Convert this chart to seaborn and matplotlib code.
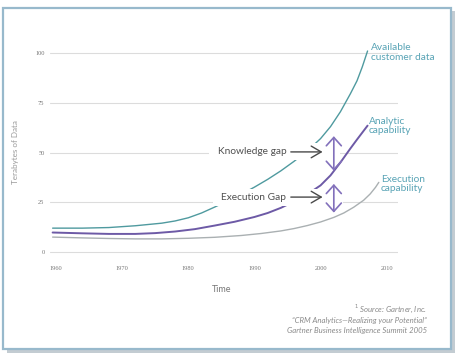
import matplotlib
matplotlib.use("Agg")
import matplotlib.pyplot as plt
import matplotlib.patches as mpatches
import pandas as pd
import seaborn as sns

sns.set_theme(style="white")
plt.rcParams["font.family"] = ["Lato", "DejaVu Sans"]

# values
available_years = [1959.5, 1964, 1968, 1972, 1976, 1978, 1980, 1982, 1984, 1986,
                   1988, 1990, 1992, 1994, 1996, 1998, 2000, 2001.5, 2003, 2004.5,
                   2005.5, 2006.3, 2007.1]
available_tb = [12.0, 12.0, 12.3, 13.2, 14.5, 15.6, 17.2, 19.6, 22.6, 25.8,
                29.0, 32.6, 36.5, 40.8, 45.6, 50.8, 57.0, 63.0, 70.5, 79.5,
                86.0, 93.0, 101.0]

analytic_years = [1959.5, 1964, 1968, 1972, 1975, 1978, 1981, 1984, 1987, 1990,
                  1992, 1994, 1996, 1998, 2000, 2001.5, 2003, 2004.5, 2005.5,
                  2006.3, 2007.1]
analytic_tb = [9.8, 9.4, 9.1, 9.1, 9.5, 10.3, 11.5, 13.3, 15.2, 17.6,
               19.6, 22.2, 25.4, 29.0, 33.5, 38.5, 45.0, 52.0, 56.5,
               60.0, 63.5]

execution_years = [1959.5, 1964, 1968, 1972, 1976, 1980, 1984, 1988, 1991, 1994,
                   1996, 1998, 2000, 2002, 2003.5, 2005, 2006.5, 2007.5, 2008.3,
                   2008.8]
execution_tb = [7.5, 7.1, 6.8, 6.6, 6.6, 6.9, 7.4, 8.3, 9.3, 10.6,
                11.8, 13.3, 15.1, 17.4, 19.6, 22.5, 26.0, 29.2, 32.5,
                35.0]

x_ticks = [1960, 1970, 1980, 1990, 2000, 2010]
y_ticks = [0, 25, 50, 75, 100]

TEAL = "#4f9a9f"
TEAL_TXT = "#58a3b5"
PURPLE = "#6d5aa6"
PURPLE_ARROW = "#8270bb"
GREY = "#aab0b2"

df = pd.concat([
    pd.DataFrame({"year": available_years, "tb": available_tb, "series": "available"}),
    pd.DataFrame({"year": analytic_years, "tb": analytic_tb, "series": "analytic"}),
    pd.DataFrame({"year": execution_years, "tb": execution_tb, "series": "execution"}),
])

fig = plt.figure(figsize=(4.56, 3.57), dpi=100)
ax = fig.add_axes([0.1096, 0.2829, 0.7632, 0.5798])

sns.lineplot(data=df, x="year", y="tb", hue="series", ax=ax, legend=False,
             palette={"available": TEAL, "analytic": PURPLE, "execution": GREY},
             sort=False, estimator=None, zorder=2)
for line, lw in zip(ax.get_lines(), [1.0, 1.4, 1.0]):
    line.set_linewidth(lw)
    line.set_clip_on(False)
    line.set_solid_joinstyle("round")

ax.set_xlim(1959.1, 2011.7)
ax.set_ylim(-2, 102)
ax.set_xticks(x_ticks)
ax.set_yticks(y_ticks)
ax.set_xticklabels([str(t) for t in x_ticks], fontsize=4.6, color="#777777",
                   family="Liberation Serif")
ax.set_yticklabels([str(t) for t in y_ticks], fontsize=4.6, color="#777777",
                   family="Liberation Serif")
ax.tick_params(axis="both", length=0)
ax.tick_params(axis="x", pad=7)
ax.tick_params(axis="y", pad=4)
ax.grid(axis="y", color="#dcdcdc", lw=0.8, zorder=0.5)
ax.grid(axis="x", visible=False)
ax.set_axisbelow(True)
for s in ax.spines.values():
    s.set_visible(False)
ax.set_xlabel("")
ax.set_ylabel("")

# white masks where labels and arrows break the lines
ax.add_patch(mpatches.Rectangle((1983.2, 46.2), 19.7, 8.6, facecolor="white",
                                edgecolor="none", zorder=3))
ax.add_patch(mpatches.Rectangle((1983.7, 22.9), 19.7, 9.0, facecolor="white",
                                edgecolor="none", zorder=3))

ax.text(1994.9, 50.3, "Knowledge gap", ha="right", va="center", fontsize=7.3,
        color="#505050", zorder=4)
ax.text(1994.8, 27.6, "Execution Gap", ha="right", va="center", fontsize=7.3,
        color="#505050", zorder=4)
for yv in [50.3, 27.6]:
    ax.annotate("", xy=(2000.3, yv), xytext=(1995.5, yv), zorder=4,
                arrowprops=dict(arrowstyle="->,head_length=0.6,head_width=0.35",
                                color="#4a4a4a", lw=1.0, shrinkA=0, shrinkB=0))
for y0, y1 in [(40.8, 58.2), (19.8, 34.2)]:
    ax.annotate("", xy=(2002.0, y1), xytext=(2002.0, y0), zorder=4,
                arrowprops=dict(arrowstyle="<->,head_length=0.5,head_width=0.45",
                                color=PURPLE_ARROW, lw=1.2, shrinkA=0, shrinkB=0))

ax.text(2007.6, 100.2, "Available\ncustomer data", ha="left", va="center",
        fontsize=7.3, color=TEAL_TXT, linespacing=1.05)
ax.text(2007.3, 63.3, "Analytic\ncapability", ha="left", va="center",
        fontsize=7.3, color=TEAL_TXT, linespacing=1.05)
ax.text(2009.1, 34.2, "Execution\ncapability", ha="left", va="center",
        fontsize=7.3, color=TEAL_TXT, linespacing=1.05)

fig.text(16 / 456, 1 - 152 / 357, "Terabytes of Data", rotation=90, ha="center",
         va="center", fontsize=5.8, color="#999999")
fig.text(222 / 456, 1 - 290 / 357, "Time", ha="center", va="center",
         fontsize=6.5, color="#777777")

notes = ["$^1$ Source: Gartner, Inc.",
         "\u201cCRM Analytics\u2014Realizing your Potential\u201d",
         "Gartner Business Intelligence Summit 2005"]
for i, note in enumerate(notes):
    fig.text(427 / 456, 1 - (309 + 11 * i) / 357, note, ha="right", va="center",
             fontsize=5.6, color="#8a8a8a", style="italic")

# frame with drop shadow
fig.patches.append(mpatches.Rectangle((7 / 456, 1 - 353 / 357), 448 / 456, 342 / 357,
                                      transform=fig.transFigure, facecolor="#c3ccd2",
                                      edgecolor="none", zorder=-2))
fig.patches.append(mpatches.Rectangle((3 / 456, 1 - 349 / 357), 448 / 456, 341 / 357,
                                      transform=fig.transFigure, facecolor="white",
                                      edgecolor="#98b9cc", lw=1.6, zorder=-1))

fig.savefig("out.png", dpi=100)
